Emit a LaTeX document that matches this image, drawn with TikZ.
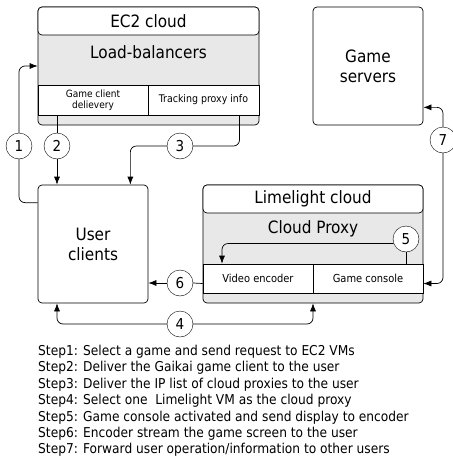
\documentclass[tikz,border=0pt]{standalone}
\usepackage{fontspec}
\setmainfont{DejaVu Sans Condensed}
\usepackage{tikz}
\usetikzlibrary{positioning, arrows.meta}
\definecolor{grisbox}{RGB}{232,232,232}
\tikzset{caja/.style={draw, rounded corners=4pt, line width=0.7pt}}
\tikzset{banda/.style={draw, rectangle, line width=0.7pt, fill=white, inner sep=0pt}}
\tikzset{paso/.style={draw, circle, fill=white, minimum size=26pt, inner sep=0pt, font=\fontsize{15}{15}\selectfont}}
\tikzset{arco/.style={line width=0.7pt, rounded corners=6pt, -{Latex[length=8pt,width=6pt]}}}
\tikzset{linea/.style={line width=0.7pt, rounded corners=6pt}}

\begin{document}
\begin{tikzpicture}[x=1pt, y=-1pt]
    \useasboundingbox (0,0) rectangle (453,464);

    \node[caja, fill=grisbox, minimum width=221pt, minimum height=118pt] (ec2) at (148.5,66) {};
    \node[caja, fill=white, minimum width=221pt, minimum height=28pt, font=\fontsize{17}{17}\selectfont] (ec2t) at (148.5,21) {EC2 cloud};
    \node[font=\fontsize{17}{17}\selectfont] (lb) at (148.5,52) {Load-balancers};
    \node[banda, minimum width=110pt, minimum height=30pt, align=center, font=\fontsize{10}{11}\selectfont] (gcd) at (93,100) {Game client\\delievery};
    \node[banda, minimum width=111pt, minimum height=30pt, font=\fontsize{10.5}{11}\selectfont] (tpi) at (203.5,100) {Tracking proxy info};

    \node[caja, minimum width=110pt, minimum height=118pt, align=center, font=\fontsize{17}{20}\selectfont] (gsrv) at (368,66) {Game\\servers};
    \node[caja, minimum width=110pt, minimum height=118pt, align=center, font=\fontsize{17}{20}\selectfont] (user) at (93,244) {User\\clients};

    \node[caja, fill=grisbox, minimum width=220pt, minimum height=118pt] (llc) at (313,244) {};
    \node[caja, fill=white, minimum width=220pt, minimum height=28pt, font=\fontsize{17}{17}\selectfont] (llct) at (313,199) {Limelight cloud};
    \node[font=\fontsize{17}{17}\selectfont] (cp) at (313,229) {Cloud Proxy};
    \node[banda, minimum width=110pt, minimum height=29pt, font=\fontsize{11}{11}\selectfont] (venc) at (258,278.5) {Video encoder};
    \node[banda, minimum width=110pt, minimum height=29pt, font=\fontsize{11}{11}\selectfont] (gcon) at (368,278.5) {Game console};

    \node[paso] (n1) at (19,146) {1};
    \node[paso] (n2) at (57,146) {2};
    \node[paso] (n3) at (180,146) {3};
    \node[paso] (n4) at (180,324) {4};
    \node[paso] (n5) at (406,239) {5};
    \node[paso] (n6) at (180,283) {6};
    \node[paso] (n7) at (443,140) {7};

    \draw[linea] ([yshift=-18pt]user.north west) -| (n1.south);
    \draw[arco] (n1.north) |- (ec2.west);
    \draw[linea] ([xshift=-36pt]gcd.south) -- (n2.north);
    \draw[arco] (n2.south) -- (n2.south |- user.north);
    \draw[linea] ([xshift=36pt]tpi.south) |- (n3.east);
    \draw[arco] (n3.west) -| ([xshift=-18pt]user.north east);
    \draw[arco] (n4.west) -| ([xshift=-36pt]user.south);
    \draw[arco] (n4.east) -| (llc.south);
    \draw[linea] (n5.south) -- (n5.south |- gcon.north);
    \draw[arco] (n5.200) -| ([xshift=-36pt]venc.north);
    \draw[linea] ([yshift=-5pt]venc.west) -- (n6.east);
    \draw[arco] (n6.west) -- (n6.west -| user.east);
    \draw[arco] (n7.north) |- ([yshift=18pt]gsrv.south east);
    \draw[arco] (n7.south) |- ([yshift=-5pt]gcon.east);

    \node[anchor=north west, inner sep=0pt, align=left, font=\fontsize{13.6}{16.4}\selectfont] (pasos) at (38,345) {Step1: Select a game and send request to EC2 VMs\\
Step2: Deliver the Gaikai game client to the user\\
Step3: Deliver the IP list of cloud proxies to the user\\
Step4: Select one\ \ Limelight VM as the cloud proxy\\
Step5: Game console activated and send display to encoder\\
Step6: Encoder stream the game screen to the user\\
Step7: Forward user operation/information to other users};
\end{tikzpicture}
\end{document}
